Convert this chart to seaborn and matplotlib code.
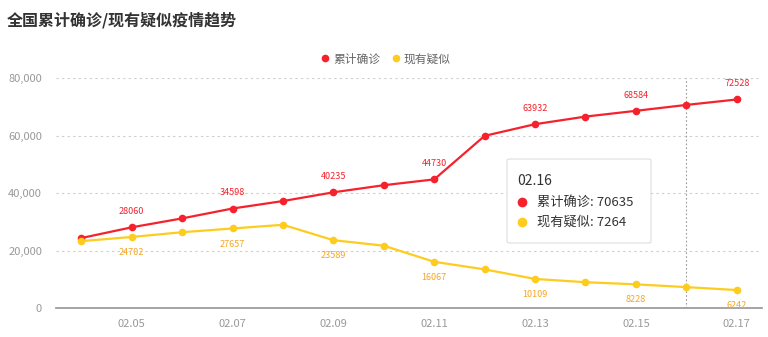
import matplotlib
matplotlib.use("Agg")
import matplotlib.pyplot as plt
import seaborn as sns
import pandas as pd
from matplotlib.patches import FancyBboxPatch
from matplotlib.lines import Line2D

dates = ["02.04", "02.05", "02.06", "02.07", "02.08", "02.09", "02.10",
         "02.11", "02.12", "02.13", "02.14", "02.15", "02.16", "02.17"]
confirmed = [24324, 28060, 31161, 34598, 37198, 40235, 42708,
             44730, 59882, 63932, 66576, 68584, 70635, 72528]
suspected = [23260, 24702, 26359, 27657, 28942, 23589, 21675,
             16067, 13435, 10109, 8969, 8228, 7264, 6242]
series_names = ["累计确诊", "现有疑似"]
yticks = [0, 20000, 40000, 60000, 80000]

RED = "#f5222d"
YEL = "#fdcc1f"
YEL_TXT = "#f5a623"

sns.set_theme(style="white")
plt.rcParams['font.family'] = ['Noto Sans CJK SC', 'DejaVu Sans']

df = pd.DataFrame({"idx": list(range(len(dates))) * 2,
                   "value": confirmed + suspected,
                   "series": [series_names[0]] * len(dates) + [series_names[1]] * len(dates)})

fig = plt.figure(figsize=(7.68, 3.37), dpi=100)
ax = fig.add_axes([56 / 768, 1 - 308 / 337, (762 - 56) / 768, (308 - 78) / 337])

sns.lineplot(data=df, x="idx", y="value", hue="series", palette=[RED, YEL],
             marker="o", markersize=5.5, markeredgewidth=0, linewidth=1.6,
             legend=False, ax=ax, zorder=3)

ax.set_xlim(-0.5, len(dates) - 0.5)
ax.set_ylim(0, 80000)
ax.set_yticks(yticks)
ax.set_yticklabels([f"{v:,}" for v in yticks], color="#999999", fontsize=8)
ax.set_xticks(list(range(1, len(dates), 2)))
ax.set_xticklabels([dates[i] for i in range(1, len(dates), 2)], color="#999999", fontsize=8)
ax.tick_params(axis="x", length=4, color="#999999", pad=4)
ax.tick_params(axis="y", length=0, pad=10)
ax.set_xlabel("")
ax.set_ylabel("")
for s in ["top", "right", "left"]:
    ax.spines[s].set_visible(False)
ax.spines["bottom"].set_color("#999999")
ax.yaxis.grid(True, linestyle=(0, (2, 3)), color="#cccccc", linewidth=0.8)
ax.set_axisbelow(True)

for i in range(1, len(dates), 2):
    ax.annotate(str(confirmed[i]), (i, confirmed[i]), xytext=(0, 8), textcoords="offset points",
                ha="center", va="bottom", fontsize=6.5, color=RED, annotation_clip=False)
    ax.annotate(str(suspected[i]), (i, suspected[i]), xytext=(0, -8), textcoords="offset points",
                ha="center", va="top", fontsize=6.5, color=YEL_TXT, annotation_clip=False)

# hover indicator
hi = 12
ax.axvline(hi, color="#999999", linestyle=(0, (1.5, 2)), linewidth=0.8, zorder=2)

# tooltip
bx0, by0, bx1, by1 = 507 / 768, 1 - 243 / 337, 651 / 768, 1 - 159 / 337
box = FancyBboxPatch((bx0, by0), bx1 - bx0, by1 - by0, transform=fig.transFigure,
                     boxstyle="round,pad=0,rounding_size=0.004", facecolor="white",
                     edgecolor="#dddddd", linewidth=0.8, zorder=10)
fig.patches.append(box)
fig.text(517 / 768, 1 - 181 / 337, dates[hi], fontsize=10, color="#333333", va="center", zorder=11)
fig.lines.append(Line2D([522 / 768], [1 - 202 / 337], marker="o", color=RED, markersize=7,
                        markeredgewidth=0, transform=fig.transFigure, zorder=11))
fig.lines.append(Line2D([522 / 768], [1 - 222 / 337], marker="o", color=YEL, markersize=7,
                        markeredgewidth=0, transform=fig.transFigure, zorder=11))
fig.text(537 / 768, 1 - 202 / 337, f"{series_names[0]}: {confirmed[hi]}", fontsize=9.5,
         color="#333333", va="center", zorder=11)
fig.text(537 / 768, 1 - 222 / 337, f"{series_names[1]}: {suspected[hi]}", fontsize=9.5,
         color="#333333", va="center", zorder=11)

# title
fig.text(7 / 768, 1 - 20 / 337, "全国累计确诊/现有疑似疫情趋势", fontsize=11.5,
         fontweight="bold", color="#333333", va="center")

# legend
handles = [Line2D([], [], marker="o", linestyle="", color=RED, markersize=5.5, markeredgewidth=0),
           Line2D([], [], marker="o", linestyle="", color=YEL, markersize=5.5, markeredgewidth=0)]
fig.legend(handles, series_names, loc="center", bbox_to_anchor=(385 / 768, 1 - 59 / 337),
           ncol=2, frameon=False, fontsize=8.5, labelcolor="#666666", handletextpad=0.2,
           columnspacing=0.8, handlelength=1.0)

fig.savefig("out.png", dpi=100)
